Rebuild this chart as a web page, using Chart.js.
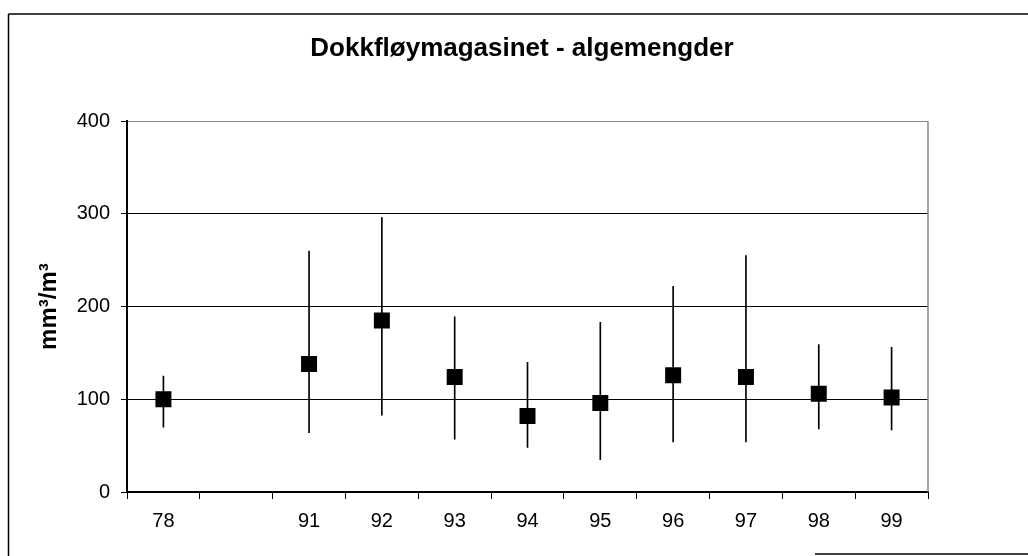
<!DOCTYPE html>
<html><head><meta charset="utf-8">
<script src="https://cdn.jsdelivr.net/npm/chart.js@4"></script>
<style>html,body{margin:0;padding:0;background:#fff}#wrap{width:1028px;height:556px;position:relative}</style>
</head><body><div id="wrap"><canvas id="c"></canvas></div>
<script>
const years = ['78','','91','92','93','94','95','96','97','98','99'];
const means = [100,null,138,185,124,82,96,126,124,106,102];
const lows  = [70,null,64,83,57,48,35,54,54,68,67];
const highs = [125,null,260,296,189,140,183,222,255,159,156];
const yTicks = [0,100,200,300,400];
const titleText = 'Dokkfløymagasinet - algemengder';
const yTitle = 'mm³/m³';

const ranges = years.map((_, i) => lows[i] == null ? null : [lows[i], highs[i]]);
const FONT = "'Liberation Sans', Arial, sans-serif";

const framePlugin = {
  id: 'frame',
  beforeDatasetsDraw(chart) {
    const {ctx, chartArea: a} = chart;
    ctx.save();
    ctx.strokeStyle = '#888';
    ctx.lineWidth = 1.5;
    ctx.beginPath();
    ctx.moveTo(a.right, a.top);
    ctx.lineTo(a.right, a.bottom);
    ctx.stroke();
    ctx.restore();
  },
  afterDraw(chart) {
    const ctx = chart.ctx;
    ctx.save();
    ctx.strokeStyle = '#000';
    ctx.lineWidth = 1.5;
    ctx.beginPath();
    ctx.moveTo(8.5, 14); ctx.lineTo(1028, 14);
    ctx.moveTo(8.5, 14); ctx.lineTo(8.5, 556);
    ctx.moveTo(815, 554); ctx.lineTo(1028, 554);
    ctx.stroke();
    ctx.restore();
  }
};

new Chart(document.getElementById('c'), {
  type: 'bar',
  data: {
    labels: years,
    datasets: [
      {
        type: 'line',
        data: means,
        showLine: false,
        pointStyle: 'rect',
        pointRadius: 11.3,
        pointHoverRadius: 11.3,
        pointBackgroundColor: '#000',
        pointBorderColor: '#000',
        pointBorderWidth: 0,
        order: 0
      },
      {
        type: 'bar',
        data: ranges,
        backgroundColor: '#000',
        barThickness: 1,
        grouped: false,
        order: 1
      }
    ]
  },
  options: {
    responsive: true,
    maintainAspectRatio: false,
    animation: false,
    devicePixelRatio: 1,
    layout: { padding: { left: 16, right: 0, top: 0, bottom: 0 } },
    plugins: {
      legend: { display: false },
      tooltip: { enabled: false },
      title: {
        display: true,
        text: titleText,
        color: '#000',
        font: { family: FONT, size: 26, weight: 'bold' },
        padding: { top: 33, bottom: 57 }
      }
    },
    scales: {
      x: {
        type: 'category',
        offset: true,
        grid: { offset: true, drawOnChartArea: false, color: '#000', tickLength: 7, lineWidth: 1 },
        border: { color: '#000', width: 2 },
        ticks: { font: { family: FONT, size: 20 }, color: '#000', padding: 10, maxRotation: 0, autoSkip: false },
        afterFit(s) { s.height = 64; }
      },
      y: {
        min: 0,
        max: 400,
        afterBuildTicks(s) { s.ticks = yTicks.map(v => ({ value: v })); },
        grid: {
          color: ctx => (ctx.tick && ctx.tick.value === 400) ? '#888' : '#000',
          tickColor: '#000',
          tickLength: 6,
          lineWidth: 1
        },
        border: { color: '#000', width: 2 },
        ticks: { font: { family: FONT, size: 20 }, color: '#000', padding: 11 },
        title: {
          display: true,
          text: yTitle,
          color: '#000',
          font: { family: FONT, size: 24, weight: 'bold' },
          padding: { top: 19, bottom: 0 }
        },
        afterFit(s) { s.width = 111; }
      },
      yRight: {
        position: 'right',
        min: 0,
        max: 400,
        grid: { drawOnChartArea: false, drawTicks: false },
        border: { display: false },
        ticks: { display: false },
        afterFit(s) { s.width = 100; }
      }
    }
  },
  plugins: [framePlugin]
});
</script>
</body></html>
